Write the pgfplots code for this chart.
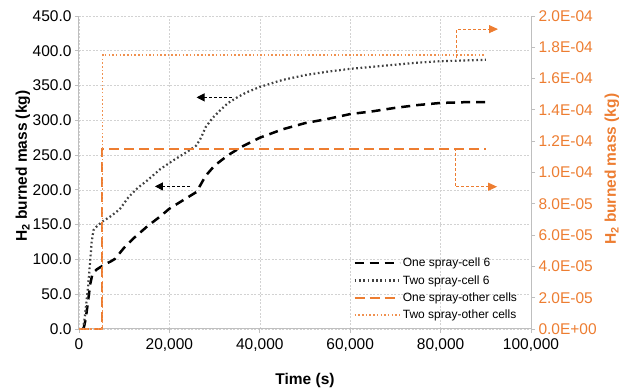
\documentclass[border=0pt]{standalone}
\usepackage{pgfplots}
\pgfplotsset{compat=1.18}
\usepackage{fontspec}
\setmainfont{Liberation Sans}
\usetikzlibrary{arrows.meta}
\definecolor{xorange}{RGB}{237,125,49}
\definecolor{axgray}{RGB}{191,191,191}
\definecolor{gridgray}{RGB}{210,210,210}
\definecolor{dotgray}{RGB}{64,64,64}
\begin{document}
\begin{tikzpicture}
\pgfplotsset{
  common/.style={scale only axis, width=452pt, height=313pt, xmin=0, xmax=100000,
    tick label style={font=\fontsize{15.5}{18}\selectfont},
    tick align=outside, major tick length=4pt,
    axis line style={axgray, line width=1pt},
    every tick/.style={axgray, line width=0.8pt},
    scaled ticks=false,
  }
}
\begin{axis}[common, name=ax1, ymin=0, ymax=450,
  axis x line*=bottom, axis y line*=left,
  xtick={0,20000,40000,60000,80000,100000},
  xticklabels={0,{20,000},{40,000},{60,000},{80,000},{100,000}},
  x tick label style={yshift=-2pt},
  ytick={0,50,100,150,200,250,300,350,400,450},
  yticklabels={0.0,50.0,100.0,150.0,200.0,250.0,300.0,350.0,400.0,450.0},
  grid=major, major grid style={gridgray, dash pattern=on 2pt off 1.5pt, line width=0.6pt},
  xlabel={Time (s)}, ylabel={H\textsubscript{2} burned mass (kg)},
  label style={font=\fontsize{15.5}{18}\selectfont\bfseries},
  xlabel style={at={(rel axis cs:0.5,0)}, anchor=center, yshift=-51pt},
  ylabel style={at={(rel axis cs:0,0.52)}, anchor=center, yshift=56pt},
]
\addplot[black, line width=2.5pt, dash pattern=on 9pt off 6pt] coordinates {
(1000,0) (1500,15) (2000,40) (2500,65) (3000,80) (4000,86) (5000,90) (6000,94) (7000,97) (8000,101)
(10000,117) (12000,130) (15000,147) (18000,162) (20000,173) (23000,185) (26000,197) (28000,220)
(30000,235) (33000,250) (36000,262) (40000,275) (45000,287) (50000,296) (55000,302) (60000,309)
(65000,313) (70000,318) (75000,322) (80000,325) (85000,326) (90000,326)};
\addplot[dotgray, line width=2.2pt, dash pattern=on 1.7pt off 2.6pt] coordinates {
(900,0) (1300,18) (2000,60) (2500,100) (2800,125) (3200,142) (4000,148) (5300,155) (7000,162)
(9000,172) (11000,190) (13000,203) (15000,213) (18000,230) (21000,243) (24000,255) (26000,264)
(27000,275) (28000,290) (29500,303) (31000,313) (33000,325) (35000,333) (37000,340) (40000,348)
(45000,358) (50000,365) (55000,370) (60000,374) (65000,377) (70000,380) (75000,383) (80000,385)
(85000,386) (90000,387)};
\draw[black, line width=1pt, dash pattern=on 3pt off 2pt, -{Triangle[length=8pt,width=8pt]}]
  (axis cs:33800,333) -- (axis cs:26000,333);
\draw[black, line width=1pt, dash pattern=on 3pt off 2pt, -{Triangle[length=8pt,width=8pt]}]
  (axis cs:24600,205) -- (axis cs:16800,205);
\end{axis}
\begin{axis}[common, ymin=0, ymax=0.0002,
  axis y line*=right, axis x line=none,
  ytick={0,0.00002,0.00004,0.00006,0.00008,0.0001,0.00012,0.00014,0.00016,0.00018,0.0002},
  yticklabels={0.0E+00,2.0E-05,4.0E-05,6.0E-05,8.0E-05,1.0E-04,1.2E-04,1.4E-04,1.6E-04,1.8E-04,2.0E-04},
  y tick label style={text=xorange},
  ylabel={H\textsubscript{2} burned mass (kg)},
  label style={font=\fontsize{15.5}{18}\selectfont\bfseries},
  ylabel style={text=xorange, at={(rel axis cs:1,0.51)}, anchor=center, yshift=-81pt},
  legend style={at={(rel axis cs:0.6,0.24)}, anchor=north west, draw=none, fill=none,
    font=\fontsize{12}{14}\selectfont, row sep=3.2pt},
  legend cell align=left,
  legend image code/.code={\draw[#1] (0pt,0pt) -- (45pt,0pt);},
  clip=false,
]
\addlegendimage{black, line width=2.5pt, dash pattern=on 9pt off 6pt}
\addlegendentry{One spray-cell 6}
\addlegendimage{dotgray, line width=2.2pt, dash pattern=on 1.7pt off 2.6pt}
\addlegendentry{Two spray-cell 6}
\addplot[xorange, line width=1.9pt, dash pattern=on 10pt off 5pt] coordinates {
(0,0) (5000,0) (5000,0.000115) (90000,0.000115)};
\addlegendentry{One spray-other cells}
\addplot[xorange!85, line width=1.9pt, dash pattern=on 1.5pt off 2.2pt] coordinates {
(0,0) (5200,0) (5200,0.000175) (90000,0.000175)};
\addlegendentry{Two spray-other cells}
\draw[xorange, line width=0.9pt, dash pattern=on 3pt off 2pt, -{Triangle[length=9pt,width=8pt]}]
  (axis cs:83500,0.0001733) -- (axis cs:83500,0.0001916) -- (axis cs:92700,0.0001916);
\draw[xorange, line width=0.9pt, dash pattern=on 3pt off 2pt, -{Triangle[length=9pt,width=8pt]}]
  (axis cs:83200,0.0001156) -- (axis cs:83200,0.0000909) -- (axis cs:92500,0.0000909);
\end{axis}
\pgfresetboundingbox
\path[use as bounding box] ([xshift=-79pt,yshift=-60pt]ax1.south west) rectangle ([xshift=90pt,yshift=16pt]ax1.north east);
\end{tikzpicture}
\end{document}
